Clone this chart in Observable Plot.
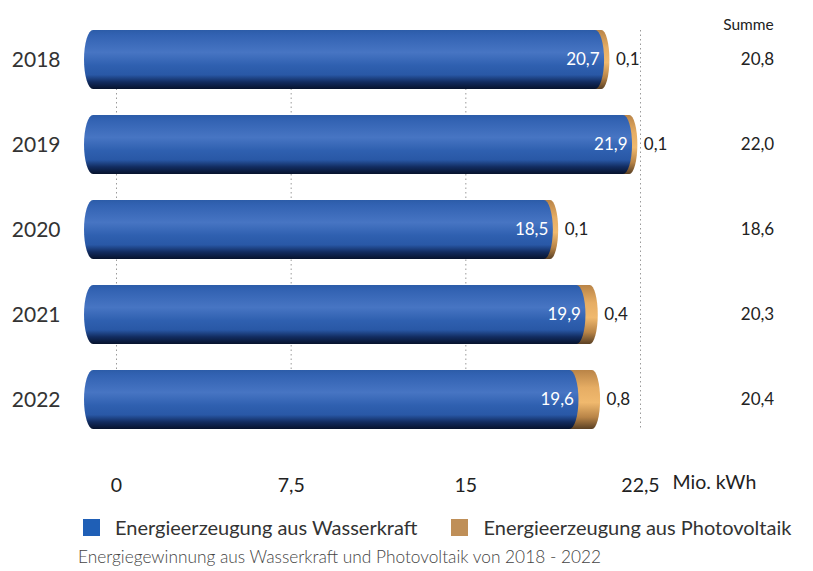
<!DOCTYPE html>
<html>
<head>
<meta charset="utf-8">
<script src="https://cdn.jsdelivr.net/npm/d3@7"></script>
<script src="https://cdn.jsdelivr.net/npm/@observablehq/plot@0.6"></script>
<style>
  html, body { margin: 0; padding: 0; background: #fff; overflow: hidden; width: 813px; height: 571px; }
  body { font-family: Lato, "Open Sans", sans-serif; color: #333; }
  #legend { position: absolute; left: 83px; top: 515px; display: flex; align-items: center; white-space: nowrap; font-size: 20px; color: #333; }
  .sw { width: 17px; height: 17px; display: inline-block; margin-right: 15px; }
  #caption { position: absolute; left: 78px; top: 546px; font-size: 17.3px; color: #444; white-space: nowrap; font-weight: 300; }
</style>
</head>
<body>
<div id="chart"></div>
<div id="legend">
  <span class="sw" style="background:#1f5fb6"></span><span style="margin-right:34px">Energieerzeugung aus Wasserkraft</span>
  <span class="sw" style="background:#bf8f58"></span><span>Energieerzeugung aus Photovoltaik</span>
</div>
<div id="caption">Energiegewinnung aus Wasserkraft und Photovoltaik von 2018 - 2022</div>
<script>
const years = ["2018", "2019", "2020", "2021", "2022"];
const hydro = [20.7, 21.9, 18.5, 19.9, 19.6];
const solar = [0.1, 0.1, 0.1, 0.4, 0.8];
const totals = [20.8, 22.0, 18.6, 20.3, 20.4];
const xTicks = [0, 7.5, 15, 22.5];

const data = years.map((y, i) => ({year: y, hydro: hydro[i], solar: solar[i], total: totals[i]}));
const fmt = d => d.toFixed(1).replace(".", ",");
const tickFmt = d => String(d).replace(".", ",");

const plot = Plot.plot({
  width: 813,
  height: 505,
  marginTop: 30,
  marginBottom: 75,
  marginLeft: 116,
  marginRight: 56,
  style: {fontFamily: "Lato, sans-serif", color: "#333", background: "white"},
  x: {domain: [0, 22.5], range: [116, 640]},
  y: {domain: years, paddingInner: 0.3, paddingOuter: 0},
  marks: [
    Plot.ruleX(xTicks, {stroke: "#9a9a9a", strokeWidth: 1, strokeDasharray: "1.5,3"}),
    Plot.barX(data, {y: "year", x1: "hydro", x2: "total", fill: "url(#tanGrad)", insetLeft: -12, insetRight: -9, rx: 8, ry: 30}),
    Plot.barX(data, {y: "year", x1: 0, x2: "hydro", fill: "url(#blueGrad)", insetLeft: -32, insetRight: -6, rx: 9, ry: 30}),
    Plot.text(data, {y: "year", x: "hydro", text: d => fmt(d.hydro), textAnchor: "end", dx: 1, fill: "white", fontSize: 17}),
    Plot.text(data, {y: "year", x: "total", text: d => fmt(d.solar), textAnchor: "start", dx: 15, fill: "#222", fontSize: 17}),
    Plot.text(data, {y: "year", text: d => fmt(d.total), frameAnchor: "right", textAnchor: "middle", fill: "#222", fontSize: 17}),
    Plot.text(["Summe"], {frameAnchor: "top-right", textAnchor: "middle", dx: -9, dy: -12, fill: "#222", fontSize: 15.5}),
    Plot.axisY({tickSize: 0, tickPadding: 56, fontSize: 21, fill: "#333", label: null}),
    Plot.axisX(xTicks, {tickSize: 0, tickPadding: 48, fontSize: 19.5, fill: "#222", tickFormat: tickFmt, label: null}),
    Plot.text(["Mio. kWh"], {x: () => 22.5, frameAnchor: "bottom", textAnchor: "start", dx: 32, dy: 58, fontSize: 19.5, fill: "#222"})
  ]
});

const ns = "http://www.w3.org/2000/svg";
const defs = document.createElementNS(ns, "defs");
function grad(id, stops) {
  const g = document.createElementNS(ns, "linearGradient");
  g.setAttribute("id", id);
  g.setAttribute("x1", "0"); g.setAttribute("y1", "0");
  g.setAttribute("x2", "0"); g.setAttribute("y2", "1");
  for (const [o, c] of stops) {
    const s = document.createElementNS(ns, "stop");
    s.setAttribute("offset", o);
    s.setAttribute("stop-color", c);
    g.appendChild(s);
  }
  defs.appendChild(g);
}
grad("blueGrad", [[0, "#2c5ca8"], [0.08, "#3262b2"], [0.38, "#4775c3"], [0.6, "#2f60b0"], [0.76, "#2958a6"], [0.88, "#122c60"], [1, "#06122c"]]);
grad("tanGrad", [[0, "#b98447"], [0.3, "#e6ad64"], [0.55, "#f0b96e"], [0.8, "#b88447"], [1, "#5a4024"]]);
plot.insertBefore(defs, plot.firstChild);
document.getElementById("chart").appendChild(plot);
</script>
</body>
</html>
